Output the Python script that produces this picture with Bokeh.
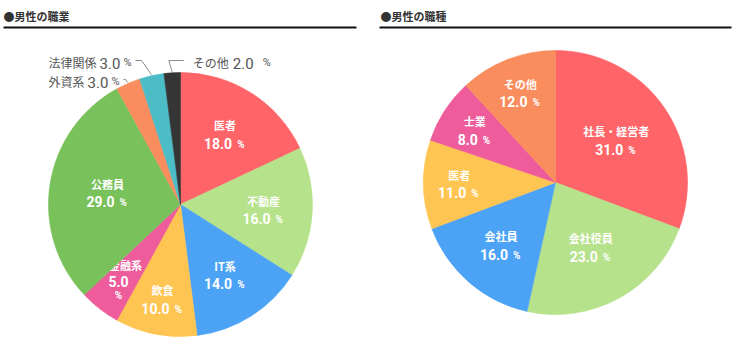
import math
from bokeh.plotting import figure
from bokeh.models import Range1d
from bokeh.embed import file_html
from bokeh.resources import INLINE
from bokeh.core.properties import value

W, H = 737, 355

# ---- data ----
titles = ["●男性の職業", "●男性の職種"]

job_labels = ["医者", "不動産", "IT系", "飲食", "金融系", "公務員", "外資系", "法律関係", "その他"]
job_values = [18.0, 16.0, 14.0, 10.0, 5.0, 29.0, 3.0, 3.0, 2.0]
job_colors = ["#FF6468", "#B7E28C", "#4CA3F6", "#FFC553", "#EE5C9B", "#79C15B", "#FA8D5D", "#4CBCC7", "#353535"]

type_labels = ["社長・経営者", "会社役員", "会社員", "医者", "士業", "その他"]
type_values = [31.0, 23.0, 16.0, 11.0, 8.0, 12.0]
type_colors = ["#FF6468", "#B7E28C", "#4CA3F6", "#FFC553", "#EE5C9B", "#FA8D5D"]

JP = value("Noto Sans CJK JP")
NUM = value("Roboto")

p = figure(width=W, height=H, x_range=Range1d(0, W), y_range=Range1d(0, H),
           output_backend="svg", toolbar_location=None, min_border=0,
           x_axis_location=None, y_axis_location=None)
p.grid.visible = False
p.outline_line_color = None
p.background_fill_color = "white"
p.border_fill_color = "white"


def Y(y):
    return H - y


def txt(x, y, s, size, color, font, align="center", baseline="middle", style="bold"):
    p.text(x=[x], y=[Y(y)], text=[s], text_font=font, text_font_size=f"{size}px",
           text_color=color, text_align=align, text_baseline=baseline,
           text_font_style=style)


def num_width(s, size):
    w = 0.0
    for ch in s:
        w += 0.27 * size if ch == "." else 0.58 * size
    return w


# outside label layout for tiny slices (left pie): side, baseline row
outside_layout = {"外資系": ("left", 81), "法律関係": ("left", 62), "その他": ("right", 62)}


def draw_pie(cx, cy, R, labels, values, colors, outside=None):
    total = sum(values)
    cum = 0.0
    for lab, v, col in zip(labels, values, colors):
        t1 = cum / total * 2 * math.pi
        cum += v
        t2 = cum / total * 2 * math.pi
        p.wedge(x=[cx], y=[Y(cy)], radius=R, radius_units="screen",
                start_angle=[math.pi / 2 - t2], end_angle=[math.pi / 2 - t1],
                fill_color=col, line_color=col, line_width=0.6)
        tm = (t1 + t2) / 2
        vs = f"{v:.1f}"
        if outside and lab in outside:
            side, base = outside[lab]
            ex = cx + (R + 1) * math.sin(tm)
            ey = cy - (R + 1) * math.cos(tm)
            ly = base - 2
            if side == "left":
                x0 = cx - R
                name_w = 12 * len(lab)
                nx = x0 + name_w + 3
                px = nx + 21 + 3
                end = px + 10
                elx = ex - 0.7 * (ey - ly)
                xs = [ex, elx, end + 2]
                pct_x = px
            else:
                elx = ex - 0.3 * (ey - ly)
                x0 = elx + 24
                name_w = 12 * len(lab) + 1
                nx = x0 + name_w + 3
                pct_x = nx + 21 + 9
                xs = [ex, elx, elx + 15]
            p.line(x=xs, y=[Y(ey), Y(ly), Y(ly)], line_color="#8A8A8A", line_width=1)
            txt(x0, base, lab, 12, "#555555", JP, align="left", baseline="alphabetic", style="normal")
            txt(nx, base + 0.5, vs, 15, "#555555", NUM, align="left", baseline="alphabetic", style="normal")
            txt(pct_x, base, "%", 11, "#555555", NUM, align="left", baseline="alphabetic", style="normal")
            continue
        if v >= 20:
            frac = 0.56
        elif v >= 13:
            frac = 0.63
        else:
            frac = 0.73
        r = R * frac
        lx = cx + r * math.sin(tm)
        ly = cy - r * math.cos(tm)
        if v < 8:
            txt(lx + 4, ly - 16, lab, 11, "white", JP)
            txt(lx - 3, ly + 1, vs, 14, "white", NUM)
            txt(lx - 3, ly + 15, "%", 10, "white", NUM)
        else:
            txt(lx, ly - 9, lab, 11, "white", JP)
            nw = num_width(vs, 14)
            tot = nw + 5 + 9
            sx = lx - tot / 2
            txt(sx, ly + 9, vs, 14, "white", NUM, align="left")
            txt(sx + nw + 5, ly + 10, "%", 10, "white", NUM, align="left")


# titles and rules
for tx, (x0, x1), t in zip([3, 380], [(3, 356), (379, 731)], titles):
    txt(tx, 15, t, 11, "#333333", JP, align="left")
    p.line(x=[x0, x1], y=[Y(27), Y(27)], line_color="#111111", line_width=2)

draw_pie(180, 204, 132, job_labels, job_values, job_colors, outside=outside_layout)
draw_pie(555, 182, 132, type_labels, type_values, type_colors)

open("out.html", "w").write(file_html(p, INLINE))
